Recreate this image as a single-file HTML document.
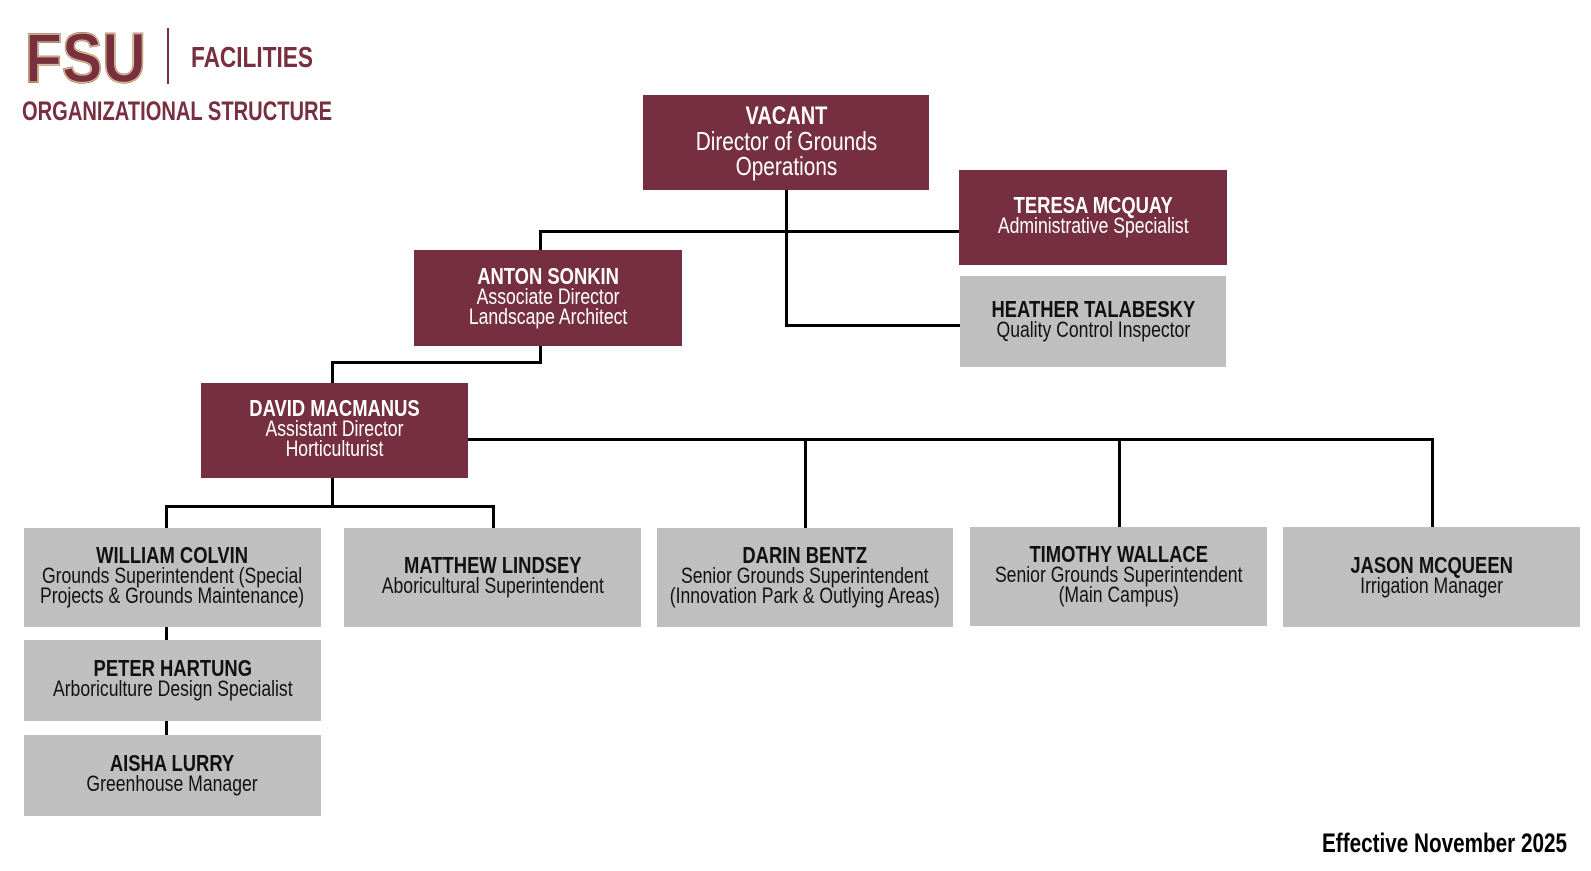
<!DOCTYPE html>
<html><head><meta charset="utf-8"><style>
body{margin:0;width:1591px;height:871px;background:#fff;position:relative;overflow:hidden;font-family:"Liberation Sans",sans-serif;}
.b{position:absolute;display:flex;flex-direction:column;justify-content:center;align-items:center;text-align:center;box-sizing:border-box;padding-bottom:4px}
.b>div{transform:scaleX(.8);white-space:nowrap;font-size:22px;line-height:20px}
.m{background:#752f40;color:#fff}
.g{background:#bfbfbf;color:#111}
.b b{font-size:23px;line-height:21px}
.l{position:absolute;background:#000}
</style></head><body>
<svg style="position:absolute;left:0;top:0" width="400" height="130">
<text x="25" y="82" font-family="Liberation Sans" font-weight="bold" font-size="70" textLength="121" lengthAdjust="spacingAndGlyphs" fill="#782f40" stroke="#782f40" stroke-width="2">FSU</text>
<text x="25" y="82" font-family="Liberation Sans" font-weight="bold" font-size="70" textLength="121" lengthAdjust="spacingAndGlyphs" fill="none" stroke="#d8bf8a" stroke-width="1.3">FSU</text>
<rect x="167" y="28" width="2" height="56" fill="#782f40"/>
<text x="191" y="67" font-family="Liberation Sans" font-weight="bold" font-size="29" fill="#782f40" textLength="122" lengthAdjust="spacingAndGlyphs">FACILITIES</text>
<text x="22" y="120" font-family="Liberation Sans" font-weight="bold" font-size="27" fill="#782f40" textLength="310" lengthAdjust="spacingAndGlyphs">ORGANIZATIONAL STRUCTURE</text>
</svg>

<div class="l" style="left:785px;top:190px;width:3px;height:137px"></div>
<div class="l" style="left:539px;top:230px;width:421px;height:3px"></div>
<div class="l" style="left:539px;top:230px;width:3px;height:20px"></div>
<div class="l" style="left:785px;top:324px;width:175px;height:3px"></div>
<div class="l" style="left:539px;top:346px;width:3px;height:18px"></div>
<div class="l" style="left:331px;top:361px;width:211px;height:3px"></div>
<div class="l" style="left:331px;top:361px;width:3px;height:22px"></div>
<div class="l" style="left:468px;top:438px;width:966px;height:3px"></div>
<div class="l" style="left:804px;top:438px;width:3px;height:90px"></div>
<div class="l" style="left:1118px;top:438px;width:3px;height:90px"></div>
<div class="l" style="left:1431px;top:438px;width:3px;height:90px"></div>
<div class="l" style="left:331px;top:478px;width:3px;height:29px"></div>
<div class="l" style="left:165px;top:505px;width:330px;height:3px"></div>
<div class="l" style="left:165px;top:505px;width:3px;height:23px"></div>
<div class="l" style="left:492px;top:505px;width:3px;height:23px"></div>
<div class="l" style="left:165px;top:627px;width:3px;height:113px"></div>

<div class="b m" style="left:643px;top:95px;width:286px;height:95px"><div style="font-size:26px;line-height:25px"><b style="font-size:25px;line-height:25px">VACANT</b><br>Director of Grounds<br>Operations</div></div>
<div class="b m" style="left:959px;top:170px;width:268px;height:95px"><div><b>TERESA MCQUAY</b><br>Administrative Specialist</div></div>
<div class="b g" style="left:960px;top:276px;width:266px;height:91px"><div><b>HEATHER TALABESKY</b><br>Quality Control Inspector</div></div>
<div class="b m" style="left:414px;top:250px;width:268px;height:96px"><div><b>ANTON SONKIN</b><br>Associate Director<br>Landscape Architect</div></div>
<div class="b m" style="left:201px;top:383px;width:267px;height:95px"><div><b>DAVID MACMANUS</b><br>Assistant Director<br>Horticulturist</div></div>

<div class="b g" style="left:24px;top:528px;width:297px;height:99px"><div><b>WILLIAM COLVIN</b><br>Grounds Superintendent (Special<br>Projects &amp; Grounds Maintenance)</div></div>
<div class="b g" style="left:344px;top:528px;width:297px;height:99px"><div><b>MATTHEW LINDSEY</b><br>Aboricultural Superintendent</div></div>
<div class="b g" style="left:657px;top:528px;width:296px;height:99px"><div><b>DARIN BENTZ</b><br>Senior Grounds Superintendent<br>(Innovation Park &amp; Outlying Areas)</div></div>
<div class="b g" style="left:970px;top:527px;width:297px;height:99px"><div><b>TIMOTHY WALLACE</b><br>Senior Grounds Superintendent<br>(Main Campus)</div></div>
<div class="b g" style="left:1283px;top:527px;width:297px;height:100px"><div><b>JASON MCQUEEN</b><br>Irrigation Manager</div></div>
<div class="b g" style="left:24px;top:640px;width:297px;height:81px"><div><b>PETER HARTUNG</b><br>Arboriculture Design Specialist</div></div>
<div class="b g" style="left:24px;top:735px;width:297px;height:81px"><div><b>AISHA LURRY</b><br>Greenhouse Manager</div></div>

<svg style="position:absolute;left:1300px;top:820px" width="291" height="45"><text x="22" y="32" font-family="Liberation Sans" font-weight="bold" font-size="27" fill="#000" textLength="245" lengthAdjust="spacingAndGlyphs">Effective November 2025</text></svg>
</body></html>
